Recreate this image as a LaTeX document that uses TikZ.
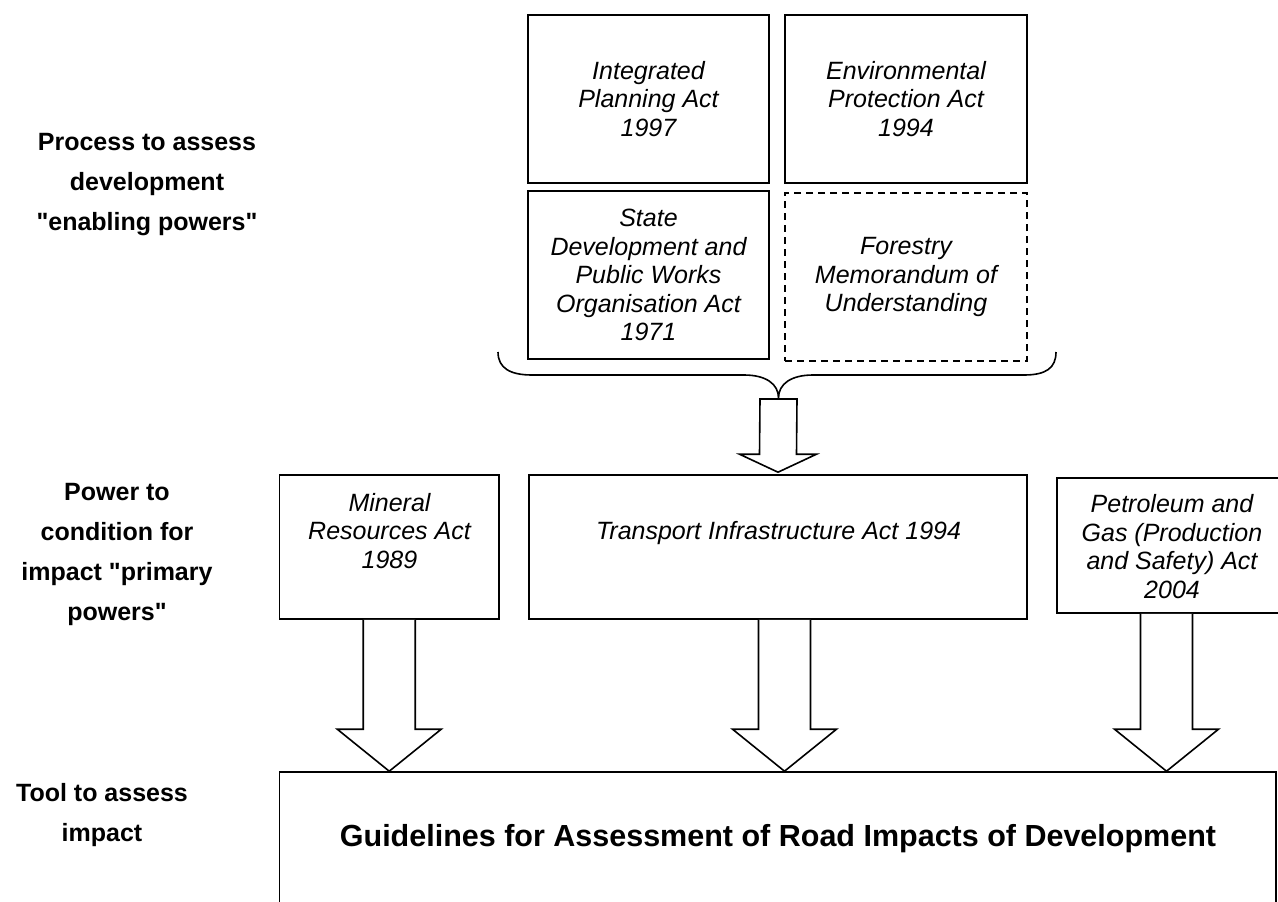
\documentclass[tikz,border=0pt]{standalone}
\usepackage{fontspec}
\setmainfont{Liberation Sans}[Ligatures=TeXOff]
\usetikzlibrary{calc}
\tikzset{
  box/.style={draw, line width=1.6pt, inner sep=0pt, fill=white},
  acttext/.style={font=\fontsize{25}{28.6}\selectfont\itshape, align=center, inner sep=0pt},
  lbl/.style={font=\fontsize{25}{40}\selectfont\bfseries, align=center, inner sep=0pt},
  barrow/.style={draw, line width=1.6pt, line join=miter, fill=white},
  bracestyle/.style={draw, line width=1.6pt},
  dashbox/.style={dash pattern=on 7pt off 5pt}
}
\begin{document}
\begin{tikzpicture}[x=1pt,y=-1pt]
\useasboundingbox (0,0) rectangle (1278,902);
\clip (0,0) rectangle (1278,902);

% left labels
\node[lbl] (l1) at (147,185) {Process to assess\\development\\"enabling powers"};
\node[lbl] (l2) at (117,554) {Power to\\condition for\\impact "primary\\powers"};
\node[lbl] (l3) at (102,815) {Tool to assess\\impact};

% top boxes
\node[box, acttext, minimum width=241pt, minimum height=168pt] (ipa) at (648.5,99) {Integrated\\Planning Act\\1997};
\node[box, acttext, minimum width=242pt, minimum height=168pt] (epa) at (906,99) {Environmental\\Protection Act\\1994};
\node[box, acttext, minimum width=241pt, minimum height=168pt] (sdp) at (648.5,275) {State\\Development and\\Public Works\\Organisation Act\\1971};
\node[box, dashbox, acttext, minimum width=242pt, minimum height=168pt] (fmu) at (906,277) {Forestry\\Memorandum of\\Understanding};

% brace
\coordinate (brL) at (498,352);
\coordinate (brR) at (1056,352);
\coordinate (brT) at (778.5,398);
\draw[bracestyle] (brL) .. controls (498,368) and (510,375) .. (532,375)
  -- (744,375) .. controls (766,375) and (778.5,384) .. (brT)
  .. controls (778.5,384) and (791,375) .. (813,375)
  -- (1024,375) .. controls (1046,375) and (1056,368) .. (brR);

% middle boxes
\node[box, minimum width=219.5pt, minimum height=144pt] (mra) at (389.25,547) {};
\node[acttext] (mraT) at (389.5,531) {Mineral\\Resources Act\\1989};
\node[box, minimum width=498pt, minimum height=144pt] (tia) at (778,547) {};
\node[acttext] (tiaT) at (778.5,533) {Transport Infrastructure Act 1994};
\node[box, minimum width=230pt, minimum height=135pt] (pga) at (1172,545.5) {};
\node[acttext] (pgaT) at (1172,546.5) {Petroleum and\\Gas (Production\\and Safety) Act\\2004};

% bottom box
\node[box, minimum width=996.5pt, minimum height=200pt] (guide) at (777.75,872) {};
\node[font=\fontsize{30.5}{36}\selectfont\bfseries, inner sep=0pt] (guideT) at (778,839) {Guidelines for Assessment of Road Impacts of Development};

% top block arrow (brace -> transport)
\draw[barrow] ($(brT)+(-18.5,1)$) -- ($(tia.north)+(-18.5,-20)$) -- ($(tia.north)+(-38.5,-20)$)
  -- ($(tia.north)+(0,-2)$) -- ($(tia.north)+(38.5,-20)$) -- ($(tia.north)+(18.5,-20)$)
  -- ($(brT)+(18.5,1)$) -- cycle;

% lower block arrows
\draw[barrow] ($(mra.south)+(-26,0)$) -- ($(mra.south |- guide.north)+(-26,-42)$)
  -- ($(mra.south |- guide.north)+(-52,-42)$) -- (mra.south |- guide.north)
  -- ($(mra.south |- guide.north)+(52,-42)$) -- ($(mra.south |- guide.north)+(26,-42)$)
  -- ($(mra.south)+(26,0)$);
\coordinate (tiaS) at ($(tia.south)+(6.5,0)$);
\draw[barrow] ($(tiaS)+(-26,0)$) -- ($(tiaS |- guide.north)+(-26,-42)$)
  -- ($(tiaS |- guide.north)+(-52,-42)$) -- (tiaS |- guide.north)
  -- ($(tiaS |- guide.north)+(52,-42)$) -- ($(tiaS |- guide.north)+(26,-42)$)
  -- ($(tiaS)+(26,0)$);
\coordinate (pgaS) at ($(pga.south)+(-5.5,0)$);
\draw[barrow] ($(pgaS)+(-26,0)$) -- ($(pgaS |- guide.north)+(-26,-42)$)
  -- ($(pgaS |- guide.north)+(-52,-42)$) -- (pgaS |- guide.north)
  -- ($(pgaS |- guide.north)+(52,-42)$) -- ($(pgaS |- guide.north)+(26,-42)$)
  -- ($(pgaS)+(26,0)$);
\end{tikzpicture}
\end{document}
